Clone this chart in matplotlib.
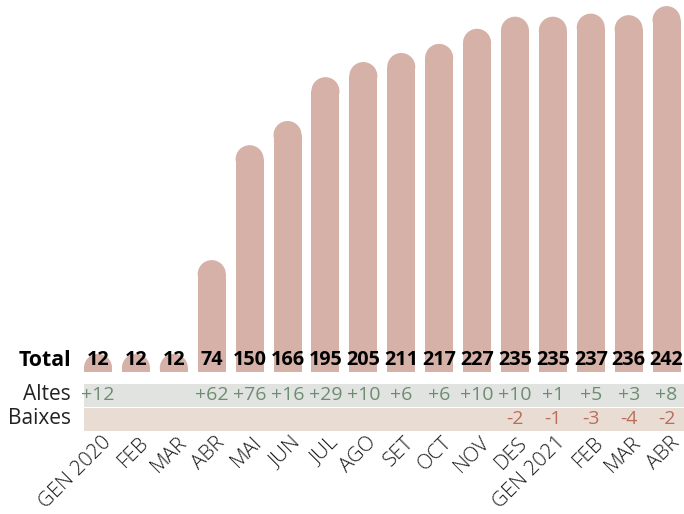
import matplotlib.pyplot as plt
import matplotlib.transforms as mtransforms
from matplotlib.patches import Rectangle, Ellipse
import numpy as np

plt.rcParams['font.family'] = ['Open Sans', 'DejaVu Sans']

# data
months = ['GEN 2020', 'FEB', 'MAR', 'ABR', 'MAI', 'JUN', 'JUL', 'AGO', 'SET',
          'OCT', 'NOV', 'DES', 'GEN 2021', 'FEB', 'MAR', 'ABR']
total = [12, 12, 12, 74, 150, 166, 195, 205, 211, 217, 227, 235, 235, 237, 236, 242]
altes = [12, 0, 0, 62, 76, 16, 29, 10, 6, 6, 10, 10, 1, 5, 3, 8]
baixes = [0, 0, 0, 0, 0, 0, 0, 0, 0, 0, 0, 2, 1, 3, 4, 2]

BAR = '#d5b1a8'
GREEN = '#6e8c72'
RED = '#bb6d5c'
BAND_A = '#e1e3e0'
BAND_B = '#e9dcd3'

W, H = 684, 514
fig = plt.figure(figsize=(W / 100, H / 100), dpi=100)

# bar axes: bottom at y=372px (from top), spans x 84..684
ax = fig.add_axes([84 / W, (H - 372) / H, 1 - 84 / W, 372 / H])
ax.set_xlim(-0.37, 15.46)
ax.set_ylim(0, 372 / 1.512)
ax.axis('off')

bw = 0.74
# cap height in data units: make it a circle in pixels
px_per_unit = 1.512
cap_h = 28 / px_per_unit
x = np.arange(len(total))
for xi, v in zip(x, total):
    r = cap_h / 2
    ax.add_patch(Rectangle((xi - bw / 2, 0), bw, max(v - r, 0), facecolor=BAR, edgecolor='none'))
    ax.add_patch(Ellipse((xi, v - r), bw, cap_h, facecolor=BAR, edgecolor='none'))

# row helpers: x in data, y in figure pixels from top
trans = mtransforms.blended_transform_factory(ax.transData, fig.transFigure)

def fy(py):
    return 1 - py / H

# bands
ax.add_patch(Rectangle((-0.37, fy(407)), 15.83, 23 / H, transform=trans,
                       facecolor=BAND_A, edgecolor='none', clip_on=False))
ax.add_patch(Rectangle((-0.37, fy(431)), 15.83, 23 / H, transform=trans,
                       facecolor=BAND_B, edgecolor='none', clip_on=False))

for xi, t, a, b in zip(x, total, altes, baixes):
    ax.text(xi, fy(360), str(t), transform=trans, ha='center', va='center',
            fontsize=14.2, fontweight='bold', color='black', clip_on=False)
    if a:
        ax.text(xi, fy(395), '+%d' % a, transform=trans, ha='center', va='center',
                fontsize=14, color=GREEN, clip_on=False)
    if b:
        ax.text(xi, fy(419), '-%d' % b, transform=trans, ha='center', va='center',
                fontsize=14, color=RED, clip_on=False)

# row labels
fig.text(71 / W, fy(360), 'Total', ha='right', va='center', fontsize=15.3,
         fontweight='bold', color='black')
fig.text(71 / W, fy(395), 'Altes', ha='right', va='center', fontsize=15, color='#222222')
fig.text(71 / W, fy(419), 'Baixes', ha='right', va='center', fontsize=15, color='#222222')

# month labels
off = 10 / 37.9
for xi, m in zip(x, months):
    ax.text(xi + off, fy(440), m, transform=trans, ha='right', va='center',
            rotation=45, rotation_mode='anchor', fontsize=14.8, fontweight='light',
            color='#1a1a1a', clip_on=False)

fig.savefig('out.png', dpi=100)
